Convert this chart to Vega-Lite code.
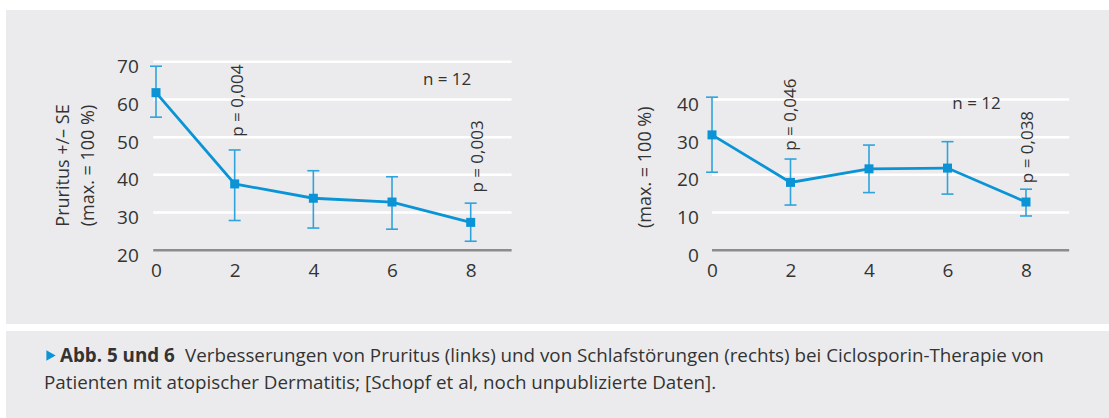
{
  "$schema": "https://vega.github.io/schema/vega-lite/v6.json",
  "background": "#ffffff",
  "padding": {"left": 6, "top": 10, "right": 0, "bottom": 0},
  "config": {"font": "Open Sans", "view": {"fill": "#ebebed", "stroke": null}},
  "datasets": {
    "pru": [
      {"w": 0, "m": 61.8, "lo": 55.3, "hi": 68.8},
      {"w": 2, "m": 37.6, "lo": 27.9, "hi": 46.6},
      {"w": 4, "m": 33.8, "lo": 25.9, "hi": 41.1},
      {"w": 6, "m": 32.8, "lo": 25.6, "hi": 39.5},
      {"w": 8, "m": 27.4, "lo": 22.4, "hi": 32.5}
    ],
    "sch": [
      {"w": 0, "m": 30.6, "lo": 20.7, "hi": 40.6},
      {"w": 2, "m": 18.0, "lo": 12.0, "hi": 24.2},
      {"w": 4, "m": 21.6, "lo": 15.3, "hi": 27.9},
      {"w": 6, "m": 21.8, "lo": 14.9, "hi": 28.8},
      {"w": 8, "m": 12.8, "lo": 9.1, "hi": 16.2}
    ],
    "pruP": [
      {"x": 2.08, "y": 50.1, "t": "p = 0,004"},
      {"x": 8.18, "y": 35.3, "t": "p = 0,003"}
    ],
    "schP": [
      {"x": 2.0, "y": 26.4, "t": "p = 0,046"},
      {"x": 8.06, "y": 17.8, "t": "p = 0,038"}
    ],
    "pruN": [{"x": 7.4, "y": 65.1, "t": "n = 12"}],
    "schN": [{"x": 6.74, "y": 38.7, "t": "n = 12"}],
    "pruGrid": [{"g": 30}, {"g": 40}, {"g": 50}, {"g": 60}, {"g": 70}],
    "pruBase": [{"g": 20}],
    "schGrid": [{"g": 10}, {"g": 20}, {"g": 30}, {"g": 40}],
    "schBase": [{"g": 0}]
  },
  "vconcat": [
    {
      "hconcat": [
        {
          "width": 554,
          "height": 314,
          "layer": [
            {
              "data": {"name": "pruGrid"},
              "mark": {"type": "rule", "color": "#ffffff", "strokeWidth": 2.5},
              "encoding": {
                "y": {"field": "g", "type": "quantitative", "scale": {"domain": [0.46, 83.71], "nice": false, "zero": false},
                  "axis": {"orient": "left", "offset": -132.3, "values": [20, 30, 40, 50, 60, 70], "domain": false, "ticks": false, "tickSize": 0, "grid": false, "labelPadding": 0, "labelOffset": 5, "labelBaseline": "middle", "labelFontSize": 19, "labelColor": "#333333", "labelFont": "Open Sans",
                    "title": ["Pruritus +/– SE", "(max. = 100 %)"], "titleFont": "Open Sans", "titleFontSize": 18, "titleFontWeight": "normal", "titleColor": "#333333", "titleX": -74.5, "titleY": 155, "titleBaseline": "middle", "titleAlign": "center", "titleAngle": -90, "titleLineHeight": 25}},
                "x": {"datum": -0.07, "type": "quantitative", "scale": {"domain": [-3.813, 10.27], "nice": false, "zero": false},
                  "axis": {"orient": "bottom", "offset": -73.7, "values": [0, 2, 4, 6, 8], "domain": false, "ticks": false, "tickSize": 0, "grid": false, "labelPadding": 11, "labelFontSize": 19, "labelColor": "#333333", "labelFont": "Open Sans", "title": null}},
                "x2": {"datum": 9.04}
              }
            },
            {
              "data": {"name": "pruBase"},
              "mark": {"type": "rule", "color": "#8c8c8c", "strokeWidth": 2.5},
              "encoding": {
                "y": {"field": "g", "type": "quantitative"},
                "x": {"datum": -0.07, "type": "quantitative"},
                "x2": {"datum": 9.04}
              }
            },
            {
              "data": {"name": "pru"},
              "mark": {"type": "rule", "color": "#2fa3dc", "strokeWidth": 1.6},
              "encoding": {
                "x": {"field": "w", "type": "quantitative"},
                "y": {"field": "lo", "type": "quantitative"},
                "y2": {"field": "hi"}
              }
            },
            {
              "data": {"name": "pru"},
              "mark": {"type": "tick", "orient": "horizontal", "color": "#2fa3dc", "size": 12, "thickness": 1.6, "opacity": 1},
              "encoding": {
                "x": {"field": "w", "type": "quantitative"},
                "y": {"field": "lo", "type": "quantitative"}
              }
            },
            {
              "data": {"name": "pru"},
              "mark": {"type": "tick", "orient": "horizontal", "color": "#2fa3dc", "size": 12, "thickness": 1.6, "opacity": 1},
              "encoding": {
                "x": {"field": "w", "type": "quantitative"},
                "y": {"field": "hi", "type": "quantitative"}
              }
            },
            {
              "data": {"name": "pru"},
              "mark": {"type": "line", "color": "#0a94d6", "strokeWidth": 2.8},
              "encoding": {
                "x": {"field": "w", "type": "quantitative"},
                "y": {"field": "m", "type": "quantitative"}
              }
            },
            {
              "data": {"name": "pru"},
              "mark": {"type": "square", "color": "#0a94d6", "size": 81, "opacity": 1},
              "encoding": {
                "x": {"field": "w", "type": "quantitative"},
                "y": {"field": "m", "type": "quantitative"}
              }
            },
            {
              "data": {"name": "pruP"},
              "mark": {"type": "text", "angle": 270, "align": "left", "baseline": "middle", "fontSize": 17, "color": "#333333"},
              "encoding": {
                "x": {"field": "x", "type": "quantitative"},
                "y": {"field": "y", "type": "quantitative"},
                "text": {"field": "t"}
              }
            },
            {
              "data": {"name": "pruN"},
              "mark": {"type": "text", "align": "center", "baseline": "middle", "fontSize": 17, "color": "#333333"},
              "encoding": {
                "x": {"field": "x", "type": "quantitative"},
                "y": {"field": "y", "type": "quantitative"},
                "text": {"field": "t"}
              }
            }
          ]
        },
        {
          "width": 549,
          "height": 314,
          "layer": [
            {
              "data": {"name": "schGrid"},
              "mark": {"type": "rule", "color": "#ffffff", "strokeWidth": 2.5},
              "encoding": {
                "y": {"field": "g", "type": "quantitative", "scale": {"domain": [-19.54, 63.71], "nice": false, "zero": false},
                  "axis": {"orient": "left", "offset": -138.3, "values": [0, 10, 20, 30, 40], "domain": false, "ticks": false, "tickSize": 0, "grid": false, "labelPadding": 0, "labelOffset": 5, "labelBaseline": "middle", "labelFontSize": 19, "labelColor": "#333333", "labelFont": "Open Sans",
                    "title": "(max. = 100 %)", "titleFont": "Open Sans", "titleFontSize": 18, "titleFontWeight": "normal", "titleColor": "#333333", "titleX": -53.3, "titleY": 156.7, "titleBaseline": "middle", "titleAlign": "center", "titleAngle": -90}},
                "x": {"datum": 0, "type": "quantitative", "scale": {"domain": [-3.873, 10.115], "nice": false, "zero": false},
                  "axis": {"orient": "bottom", "offset": -73.7, "values": [0, 2, 4, 6, 8], "domain": false, "ticks": false, "tickSize": 0, "grid": false, "labelPadding": 11, "labelFontSize": 19, "labelColor": "#333333", "labelFont": "Open Sans", "title": null}},
                "x2": {"datum": 9.1}
              }
            },
            {
              "data": {"name": "schBase"},
              "mark": {"type": "rule", "color": "#8c8c8c", "strokeWidth": 2.5},
              "encoding": {
                "y": {"field": "g", "type": "quantitative"},
                "x": {"datum": 0, "type": "quantitative"},
                "x2": {"datum": 9.1}
              }
            },
            {
              "data": {"name": "sch"},
              "mark": {"type": "rule", "color": "#2fa3dc", "strokeWidth": 1.6},
              "encoding": {
                "x": {"field": "w", "type": "quantitative"},
                "y": {"field": "lo", "type": "quantitative"},
                "y2": {"field": "hi"}
              }
            },
            {
              "data": {"name": "sch"},
              "mark": {"type": "tick", "orient": "horizontal", "color": "#2fa3dc", "size": 12, "thickness": 1.6, "opacity": 1},
              "encoding": {
                "x": {"field": "w", "type": "quantitative"},
                "y": {"field": "lo", "type": "quantitative"}
              }
            },
            {
              "data": {"name": "sch"},
              "mark": {"type": "tick", "orient": "horizontal", "color": "#2fa3dc", "size": 12, "thickness": 1.6, "opacity": 1},
              "encoding": {
                "x": {"field": "w", "type": "quantitative"},
                "y": {"field": "hi", "type": "quantitative"}
              }
            },
            {
              "data": {"name": "sch"},
              "mark": {"type": "line", "color": "#0a94d6", "strokeWidth": 2.8},
              "encoding": {
                "x": {"field": "w", "type": "quantitative"},
                "y": {"field": "m", "type": "quantitative"}
              }
            },
            {
              "data": {"name": "sch"},
              "mark": {"type": "square", "color": "#0a94d6", "size": 81, "opacity": 1},
              "encoding": {
                "x": {"field": "w", "type": "quantitative"},
                "y": {"field": "m", "type": "quantitative"}
              }
            },
            {
              "data": {"name": "schP"},
              "mark": {"type": "text", "angle": 270, "align": "left", "baseline": "middle", "fontSize": 17, "color": "#333333"},
              "encoding": {
                "x": {"field": "x", "type": "quantitative"},
                "y": {"field": "y", "type": "quantitative"},
                "text": {"field": "t"}
              }
            },
            {
              "data": {"name": "schN"},
              "mark": {"type": "text", "align": "center", "baseline": "middle", "fontSize": 17, "color": "#333333"},
              "encoding": {
                "x": {"field": "x", "type": "quantitative"},
                "y": {"field": "y", "type": "quantitative"},
                "text": {"field": "t"}
              }
            }
          ]
        }
      ],
      "spacing": 0,
      "bounds": "flush"
    },
    {
      "width": 1103,
      "height": 87,
      "layer": [
        {
          "data": {"values": [{"t": "▶"}]},
          "mark": {"type": "point", "shape": "triangle-right", "filled": true, "color": "#0a94d6", "size": 115, "opacity": 1},
          "encoding": {"x": {"value": 45}, "y": {"value": 24.5}}
        },
        {
          "data": {"values": [{"t": "Abb. 5 und 6"}]},
          "mark": {"type": "text", "align": "left", "baseline": "alphabetic", "fontSize": 18.8, "fontWeight": "bold", "color": "#333333"},
          "encoding": {"x": {"value": 54}, "y": {"value": 31}, "text": {"field": "t"}}
        },
        {
          "data": {"values": [{"t": "Verbesserungen von Pruritus (links) und von Schlafstörungen (rechts) bei Ciclosporin-Therapie von"}]},
          "mark": {"type": "text", "align": "left", "baseline": "alphabetic", "fontSize": 18.8, "color": "#333333"},
          "encoding": {"x": {"value": 179}, "y": {"value": 31}, "text": {"field": "t"}}
        },
        {
          "data": {"values": [{"t": "Patienten mit atopischer Dermatitis; [Schopf et al, noch unpublizierte Daten]."}]},
          "mark": {"type": "text", "align": "left", "baseline": "alphabetic", "fontSize": 18.8, "color": "#333333"},
          "encoding": {"x": {"value": 38}, "y": {"value": 58}, "text": {"field": "t"}}
        }
      ]
    }
  ],
  "spacing": 7
}
